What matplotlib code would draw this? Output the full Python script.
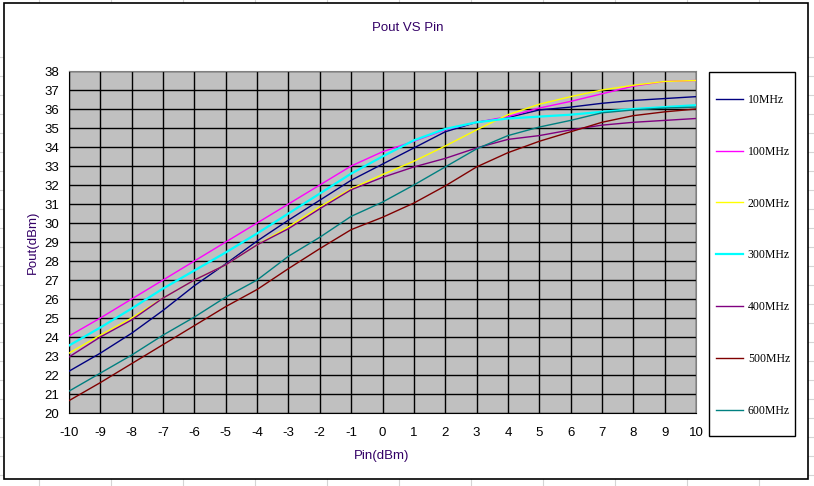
import matplotlib
matplotlib.use("Agg")
import matplotlib.pyplot as plt
from matplotlib.lines import Line2D
from matplotlib.patches import Rectangle

plt.rcParams["axes.unicode_minus"] = False

# ---------------- Data ----------------
pin = list(range(-10, 11))

p_10 = [22.2, 23.15, 24.2, 25.4, 26.7, 27.85, 29.05, 30.15, 31.2, 32.25, 33.1,
        33.95, 34.8, 35.3, 35.55, 35.95, 36.1, 36.3, 36.45, 36.55, 36.65]
p_100 = [24.05, 25.0, 26.0, 27.0, 28.0, 29.0, 30.0, 31.0, 32.0, 33.0, 33.75,
         34.3, 34.9, 35.3, 35.6, 36.05, 36.4, 36.8, 37.2, 37.45, 37.5]
p_200 = [23.15, 24.1, 25.0, 26.05, 27.0, 27.8, 28.85, 29.8, 30.85, 31.8, 32.55,
         33.25, 34.05, 34.9, 35.7, 36.25, 36.65, 37.0, 37.25, 37.45, 37.5]
p_300 = [23.55, 24.5, 25.5, 26.55, 27.5, 28.45, 29.45, 30.5, 31.55, 32.6, 33.5,
         34.35, 34.95, 35.3, 35.5, 35.6, 35.7, 35.85, 36.0, 36.1, 36.2]
p_400 = [22.95, 24.0, 24.9, 26.05, 27.0, 27.8, 28.85, 29.7, 30.75, 31.75, 32.4,
         32.95, 33.4, 33.95, 34.4, 34.6, 34.9, 35.15, 35.3, 35.4, 35.5]
p_500 = [20.65, 21.6, 22.6, 23.6, 24.6, 25.6, 26.5, 27.6, 28.65, 29.65, 30.3,
         31.05, 31.95, 32.95, 33.7, 34.3, 34.8, 35.3, 35.65, 35.85, 36.0]
p_600 = [21.15, 22.1, 23.05, 24.1, 25.05, 26.1, 27.0, 28.25, 29.25, 30.35, 31.1,
         32.0, 32.95, 33.9, 34.6, 35.05, 35.4, 35.8, 35.95, 36.05, 36.1]

labels = ["10MHz", "100MHz", "200MHz", "300MHz", "400MHz", "500MHz", "600MHz"]
colors = ["#000080", "#FF00FF", "#FFFF00", "#00FFFF", "#800080", "#800000", "#008080"]
series = [p_10, p_100, p_200, p_300, p_400, p_500, p_600]

# ---------------- Figure ----------------
W, H = 814, 486
fig = plt.figure(figsize=(W / 100, H / 100), dpi=100)
fig.patch.set_facecolor("white")

# spreadsheet cells behind the chart
for x in range(39, W, 72):
    fig.add_artist(Line2D([x / W, x / W], [0, 1], color="#D4D4D4", lw=0.8, zorder=0))
for y in range(60, H, 19):
    fig.add_artist(Line2D([0, 1], [1 - (y - 3) / H, 1 - (y - 3) / H], color="#D4D4D4", lw=0.8, zorder=0))

# chart area
fig.add_artist(Rectangle((4 / W, 1 - 479 / H), 804 / W, 476 / H, transform=fig.transFigure,
                         facecolor="white", edgecolor="black", lw=1.2, zorder=1))

ax = fig.add_axes([69 / W, 1 - 413 / H, 627 / W, 342 / H], zorder=2)
ax.set_facecolor("#C0C0C0")

for vals, lab, col in zip(series, labels, colors):
    lw = 1.6 if lab == "300MHz" else 1.0
    ax.plot(pin, vals, color=col, lw=lw, label=lab, zorder=3)

ax.set_xlim(-10, 10)
ax.set_ylim(20, 38)
ax.set_xticks(range(-10, 11))
ax.set_yticks(range(20, 39))
ax.grid(True, color="black", lw=1.0)
ax.set_axisbelow(True)
ax.tick_params(length=0, labelsize=9.5, pad=10)
ax.tick_params(axis="y", pad=7)
for lbl in ax.get_xticklabels() + ax.get_yticklabels():
    lbl.set_fontfamily("Liberation Sans")
for side in ["top", "right"]:
    ax.spines[side].set_color("#808080")
for side in ["left", "bottom"]:
    ax.spines[side].set_color("black")

txt_col = "#330066"
fig.text(408 / W, 1 - 28 / H, "Pout VS Pin", ha="center", va="center",
         fontsize=9.5, color=txt_col, family="Liberation Sans")
fig.text(382 / W, 1 - 456 / H, "Pin(dBm)", ha="center", va="center",
         fontsize=9.5, color=txt_col, family="Liberation Sans")
fig.text(33 / W, 1 - 242 / H, "Pout(dBm)", ha="center", va="center", rotation=90,
         fontsize=9.5, color=txt_col, family="Liberation Sans")

# legend box drawn separately, entries without frame
fig.add_artist(Rectangle((709 / W, 1 - 436 / H), 86 / W, 364 / H, transform=fig.transFigure,
                         facecolor="white", edgecolor="black", lw=1.0, zorder=4))
leg = fig.legend(loc="upper left", bbox_to_anchor=(716 / W, 1 - 94 / H),
                 frameon=False, prop={"family": "Liberation Serif", "size": 8.5},
                 labelspacing=3.37, handlelength=2.3, handletextpad=0.4,
                 borderpad=0, borderaxespad=0)
leg.set_zorder(5)

fig.savefig("out.png", dpi=100)
